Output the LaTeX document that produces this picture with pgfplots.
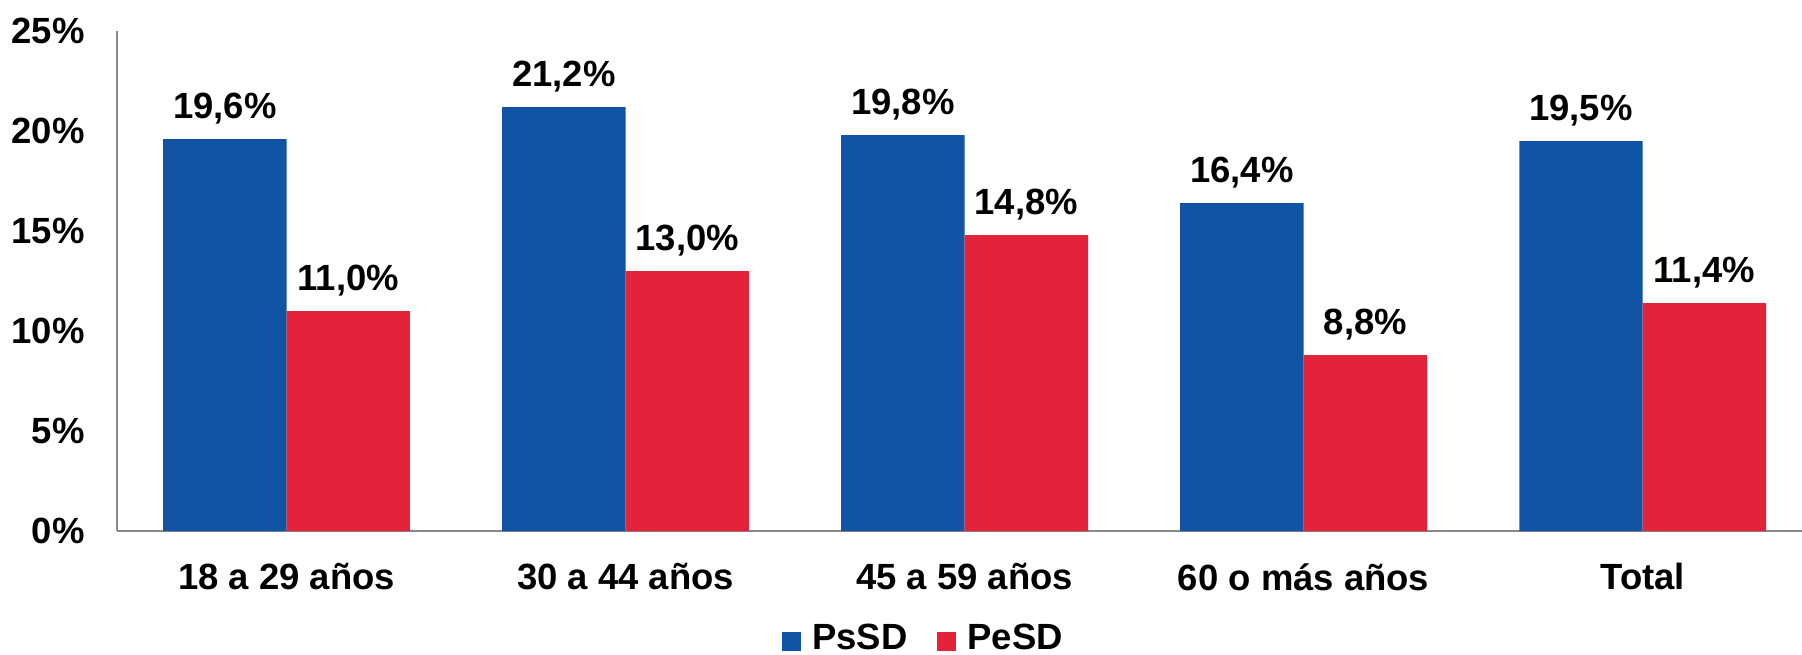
\documentclass[border=0pt]{standalone}
\usepackage{fontspec}
\setmainfont{Liberation Sans}
\usepackage{pgfplots}
\pgfplotsset{compat=1.18}
\definecolor{psblue}{RGB}{18,84,164}
\definecolor{pered}{RGB}{226,35,57}
\definecolor{axgray}{RGB}{137,137,137}
\newcommand\lbl{\fontsize{18.3}{22}\selectfont\bfseries}
\begin{document}
\begin{tikzpicture}
\begin{axis}[
  scale only axis,
  width=842.5bp, height=250bp,
  xmin=-0.5, xmax=4.47, ymin=0, ymax=25,
  enlargelimits=false,
  axis x line=bottom, axis y line=left,
  axis line style={draw=axgray, line width=1bp, -},
  xtick={0,1,2,3,4},
  xticklabels={18 a 29 años,30 a 44 años,45 a 59 años,60 o más años,Total},
  ytick={0,5,10,15,20,25},
  yticklabels={0\%,5\%,10\%,15\%,20\%,25\%},
  major tick length=0pt,
  tick style={draw=none},
  xticklabel style={font=\lbl, anchor=north, inner sep=0pt, yshift=-16bp},
  yticklabel style={font=\lbl, anchor=east, inner sep=0pt, xshift=-16bp},
  /pgf/number format/assume math mode=true,
  ybar, bar width=0.364,
  nodes near coords={\pgfmathprintnumber[fixed,fixed zerofill,precision=1,use comma]{\pgfplotspointmeta}\%},
  nodes near coords style={font=\lbl, anchor=base, inner sep=0pt, yshift=10.5bp, text=black},
  legend columns=2,
  legend image code/.code={\fill[#1] (0bp,-6.5bp) rectangle (9.5bp,3bp);},
  legend style={draw=none, fill=none, font=\lbl, inner sep=0pt, outer sep=0pt,
    at={(rel axis cs:0.478,-0.214)}, anchor=center,
    nodes={inner sep=0pt},
    /tikz/every odd column/.append style={column sep=5.5bp},
    /tikz/every even column/.append style={column sep=15bp}},
]
\addplot[fill=psblue, draw=none, bar shift=-0.182] coordinates {(0,19.6) (1,21.2) (2,19.8) (3,16.4) (4,19.5)};
\addplot[fill=pered, draw=none, bar shift=0.182] coordinates {(0,11.0) (1,13.0) (2,14.8) (3,8.8) (4,11.4)};
\legend{PsSD,PeSD}
\end{axis}
\pgfresetboundingbox
\path[use as bounding box] (-58.5bp,-62bp) rectangle (842.5bp,265.5bp);
\end{tikzpicture}
\end{document}
